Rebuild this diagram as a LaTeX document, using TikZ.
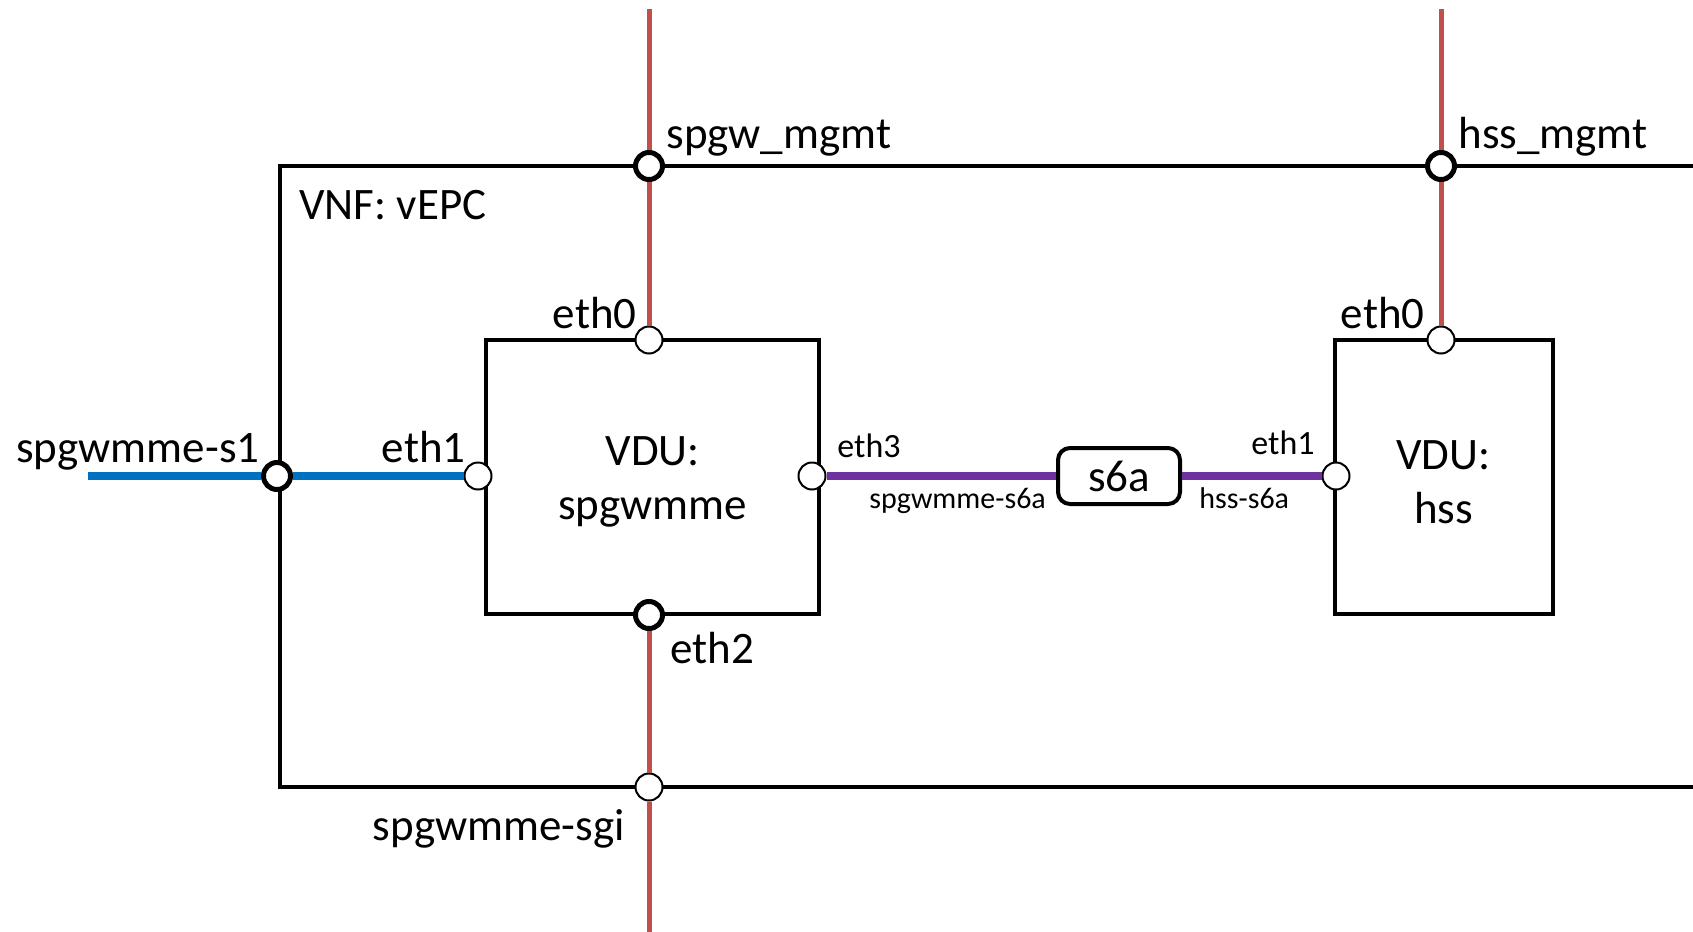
\documentclass[tikz,border=0pt]{standalone}
\usepackage{fontspec}
\setmainfont{Carlito}
\definecolor{mgmtred}{HTML}{C0504D}
\definecolor{s1blue}{HTML}{0070C0}
\definecolor{s6purple}{HTML}{7030A0}
\begin{document}
\begin{tikzpicture}[x=0.5pt,y=-0.5pt,
  big/.style={font=\fontsize{22.5}{27.5}\selectfont, inner sep=0pt},
  mid/.style={font=\fontsize{17}{20}\selectfont, inner sep=0pt},
  small/.style={font=\fontsize{15}{18}\selectfont, inner sep=0pt},
  frame/.style={draw=black, line width=2pt},
  vdu/.style={draw=black, line width=2pt, rectangle, inner sep=0pt, align=center,
    font=\fontsize{22.5}{27}\selectfont},
  port/.style={circle, draw=black, fill=white, line width=1pt, minimum size=13.5pt, inner sep=0pt},
  portext/.style={port, line width=2.5pt},
  redlink/.style={draw=mgmtred, line width=2.5pt},
  bluelink/.style={draw=s1blue, line width=4pt},
  purplelink/.style={draw=s6purple, line width=4pt},
  vlink/.style={draw=black, line width=2pt, rounded corners=6pt, rectangle,
    minimum width=61pt, minimum height=28pt, inner sep=0pt, fill=white,
    font=\fontsize{22.5}{27.5}\selectfont}
]
\useasboundingbox (0,0) rectangle (1693,932);

% VNF frame, open towards the right
\draw[frame] (1693,166) -- (280,166) -- (280,787) -- (1693,787);
\node[big, anchor=base west] (vnf) at (299,219) {VNF: vEPC};

% VDUs
\node[vdu, minimum width=166.75pt, minimum height=137pt] (spgw) at (652.7,477)
  {\rule{0pt}{19.5pt}VDU:\\spgwmme};
\node[vdu, minimum width=109pt, minimum height=137pt] (hss) at (1443.5,477)
  {\rule{0pt}{19.5pt}VDU:\\hss};

% virtual link
\node[vlink] (s6a) at (1119,476) {s6a};

% free ends of the external links
\coordinate (mgtop1) at (649,9);
\coordinate (mgtop2) at (1441,9);
\coordinate (sgibot) at (649,932);
\coordinate (s1end) at (88,476);

% connection points
\node[portext] (cpmg1) at (649,166) {};
\node[portext] (cpmg2) at (1441,166) {};
\node[port] (e0a) at (649,340) {};
\node[port] (e0b) at (1441,340) {};
\node[port] (e1a) at (478,476) {};
\node[port] (e3) at (812,476) {};
\node[port] (e1b) at (1336,476) {};
\node[portext] (e2) at (649,615) {};
\node[port] (cpsgi) at (649,787) {};
\node[portext] (cps1) at (277,476) {};

% links
\draw[redlink] (mgtop1) -- (cpmg1);
\draw[redlink] (cpmg1) -- (e0a);
\draw[redlink] (mgtop2) -- (cpmg2);
\draw[redlink] (cpmg2) -- (e0b);
\draw[redlink] (e2) -- (cpsgi);
\draw[redlink] (cpsgi) -- (sgibot);
\draw[bluelink] (s1end) -- (cps1);
\draw[bluelink] (cps1) -- (e1a);
\draw[purplelink] (e3) -- (s6a);
\draw[purplelink] (s6a) -- (e1b);

% labels
\node[big, anchor=base west] (lmg1) at (666,148) {spgw\_mgmt};
\node[big, anchor=base west] (lmg2) at (1458,148) {hss\_mgmt};
\node[big, anchor=base east] (le0a) at (637,328) {eth0};
\node[big, anchor=base east] (le0b) at (1425,328) {eth0};
\node[big, anchor=base east] (le1a) at (466,462) {eth1};
\node[big, anchor=base west] (ls1) at (16,462) {spgwmme-s1};
\node[mid, anchor=base west] (le3) at (837,457) {eth3};
\node[mid, anchor=base east] (le1b) at (1315,454) {eth1};
\node[small, anchor=base west] (lsp6) at (869,508) {spgwmme-s6a};
\node[small, anchor=base west] (lhs6) at (1199,508) {hss-s6a};
\node[big, anchor=base west] (le2) at (670,663) {eth2};
\node[big, anchor=base east] (lsgi) at (625,840) {spgwmme-sgi};
\end{tikzpicture}
\end{document}
